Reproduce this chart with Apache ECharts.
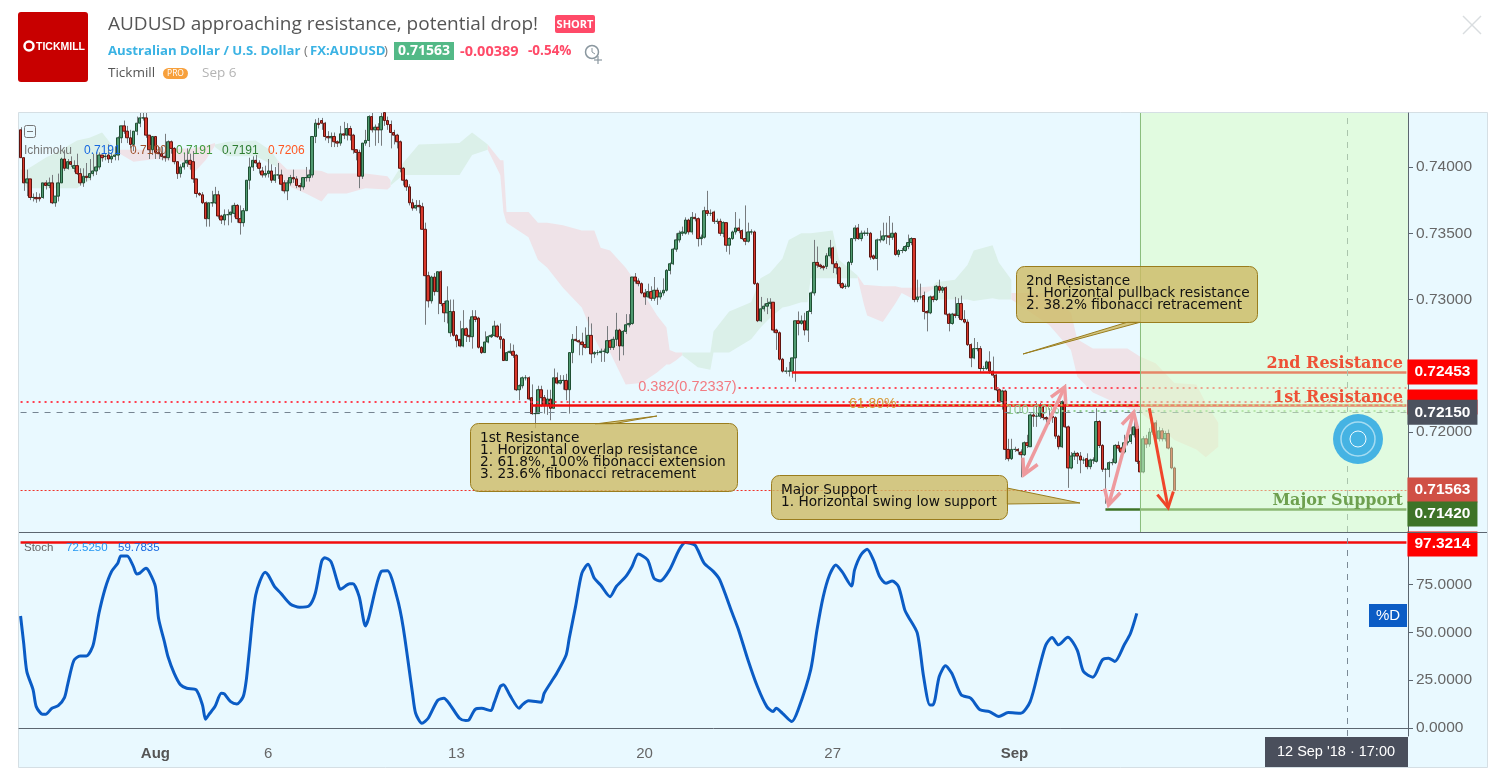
<!DOCTYPE html>
<html lang="en">
<head>
<meta charset="UTF-8">
<title>AUDUSD approaching resistance, potential drop!</title>
<style>
html,body{margin:0;padding:0;background:#fff}
#chart{width:1512px;height:776px}
</style>
</head>
<body>
<div id="chart"></div>
<script src="https://cdn.jsdelivr.net/npm/echarts@6/dist/echarts.min.js"></script>
<script type="text/javascript">
// AUDUSD 2h bars, rows are [open, close, low, high] in pips (0.0001)
var barsLateJul = [
[7428,7407,7407,7430],[7407,7388,7382,7407],[7388,7391,7378,7398],[7391,7377,7375,7391],[7377,7377,7374,7380],[7377,7376,7373,7381],[7377,7376,7374,7380],[7377,7388,7376,7388],[7388,7386,7383,7390],[7386,7388,7384,7392],
[7388,7373,7372,7394],[7373,7378,7370,7378],[7378,7388,7374,7395],[7388,7406,7388,7407],[7406,7399,7397,7413],[7399,7404,7398,7406],[7404,7402,7400,7408],[7399,7401,7396,7405],[7401,7395,7394,7410],[7395,7388,7386,7399],
[7388,7393,7385,7399],[7393,7392,7389,7403],[7392,7395,7390,7406],[7395,7397,7393,7410],[7397,7400,7394,7411],[7400,7409,7398,7411],[7409,7407,7404,7409],[7408,7408,7405,7410],[7409,7406,7403,7417],[7406,7408,7403,7411],
[7408,7409,7405,7415],[7409,7422,7405,7423],[7422,7431,7418,7431],[7431,7427,7425,7435],[7427,7422,7418,7431],[7422,7417,7414,7428],[7417,7427,7412,7427],[7427,7433,7424,7438],[7433,7437,7430,7441],[7437,7437,7435,7443],
[7437,7424,7422,7443],[7424,7413,7406,7424],[7413,7423,7409,7423],[7423,7411,7406,7423],[7411,7410,7406,7415],[7410,7408,7405,7415],[7408,7407,7404,7425],[7407,7419,7405,7420],[7419,7414,7410,7420],[7414,7404,7402,7415],
[7404,7395,7391,7404],[7395,7400,7392,7402],[7400,7403,7398,7410],[7403,7405,7400,7414],[7405,7402,7398,7410],[7404,7391,7388,7412],[7391,7380,7377,7391],[7380,7379,7378,7381],[7379,7373,7372,7381],[7373,7361,7355,7374],
[7361,7373,7355,7373],[7373,7373,7370,7382],[7373,7379,7372,7385],[7379,7363,7361,7382],[7363,7360,7357,7364],[7360,7364,7356,7368],[7364,7364,7356,7368],[7364,7366,7358,7371],[7365,7371,7362,7373],[7371,7361,7358,7372],
[7361,7358,7349,7371],[7358,7367,7355,7369],[7367,7390,7367,7390],[7390,7400,7383,7407],[7400,7405,7397,7408],[7405,7403,7400,7409],[7403,7399,7395,7405],[7397,7394,7392,7400],[7394,7395,7392,7401]];
var barsAug06 = [
[7395,7397,7392,7406],[7397,7390,7388,7402],[7390,7394,7388,7400],[7394,7394,7391,7403],[7394,7387,7382,7398],[7388,7382,7380,7390],[7382,7388,7375,7390],[7388,7392,7386,7394],[7392,7391,7388,7398],[7391,7386,7384,7393],
[7386,7385,7382,7388],[7385,7392,7383,7392],[7392,7392,7389,7400],[7392,7394,7389,7398],[7394,7423,7392,7423],[7423,7433,7418,7436],[7433,7432,7429,7437],[7435,7433,7428,7437],[7433,7423,7420,7434],[7423,7422,7418,7427],
[7422,7423,7415,7426],[7423,7419,7415,7426],[7419,7418,7415,7420],[7418,7425,7416,7431],[7425,7424,7421,7434],[7424,7429,7420,7433],[7429,7424,7420,7431],[7424,7413,7410,7425],[7413,7411,7405,7413],[7411,7393,7384,7413],
[7393,7418,7391,7418],[7418,7420,7416,7428],[7420,7438,7415,7439],[7438,7428,7426,7441],[7428,7430,7416,7432],[7430,7428,7418,7433],[7428,7438,7416,7441],[7441,7435,7431,7443],[7435,7432,7428,7438],[7432,7426,7414,7435],
[7426,7424,7417,7428],[7424,7419,7414,7425],[7419,7399,7396,7420],[7399,7390,7386,7400],[7390,7385,7382,7391],[7385,7373,7371,7387],[7373,7369,7367,7376],[7369,7371,7367,7375],[7371,7370,7365,7375],[7370,7353,7353,7373],
[7353,7318,7281,7358],[7318,7299,7294,7321],[7299,7317,7297,7318],[7317,7306,7303,7320],[7306,7321,7289,7321],[7321,7297,7295,7322],[7297,7290,7283,7299],[7290,7299,7282,7310],[7275,7291,7272,7300],[7291,7273,7272,7300]];
var barsAug13 = [
[7273,7269,7264,7274],[7270,7265,7264,7284],[7265,7278,7264,7292],[7278,7273,7268,7279],[7273,7272,7268,7285],[7272,7287,7263,7292],[7287,7285,7283,7292],[7286,7264,7263,7287],[7264,7260,7259,7265],[7260,7268,7260,7276],
[7268,7272,7267,7273],[7272,7273,7271,7274],[7273,7280,7272,7284],[7280,7272,7271,7281],[7272,7270,7263,7282],[7270,7254,7254,7271],[7254,7260,7254,7261],[7260,7261,7259,7267],[7261,7258,7256,7266],[7258,7232,7231,7259],
[7232,7235,7224,7236],[7235,7241,7233,7242],[7241,7241,7239,7243],[7241,7225,7224,7242],[7226,7214,7213,7236],[7214,7214,7203,7221],[7214,7232,7214,7235],[7232,7226,7219,7235],[7226,7220,7214,7228],[7220,7225,7213,7232],
[7225,7218,7209,7232],[7218,7241,7218,7248],[7241,7237,7236,7245],[7237,7239,7236,7243],[7239,7239,7232,7243],[7239,7232,7224,7244],[7232,7260,7214,7260],[7260,7270,7252,7274],[7270,7269,7268,7280],[7269,7268,7258,7270],
[7268,7266,7258,7275],[7266,7264,7263,7279],[7264,7273,7264,7287],[7273,7259,7252,7282],[7259,7260,7256,7261],[7260,7260,7258,7262],[7260,7261,7253,7263],[7261,7261,7253,7263],[7260,7269,7259,7280],[7269,7264,7262,7270],
[7264,7270,7262,7272],[7270,7277,7265,7290],[7277,7265,7254,7278],[7265,7276,7258,7277],[7276,7281,7274,7289],[7281,7282,7279,7289],[7282,7317,7281,7317],[7317,7314,7312,7320],[7314,7312,7310,7316],[7312,7305,7304,7313]];
var barsAug20 = [
[7305,7302,7296,7308],[7302,7306,7301,7312],[7306,7301,7299,7310],[7301,7307,7299,7317],[7307,7302,7296,7309],[7302,7305,7300,7307],[7305,7307,7303,7316],[7307,7322,7306,7323],[7322,7327,7319,7328],[7327,7338,7326,7339],
[7338,7345,7336,7350],[7345,7350,7343,7352],[7350,7351,7348,7355],[7350,7360,7349,7362],[7360,7351,7349,7361],[7351,7362,7349,7366],[7362,7361,7359,7365],[7361,7346,7340,7362],[7346,7347,7341,7349],[7347,7367,7346,7370],
[7367,7365,7363,7382],[7365,7365,7363,7368],[7366,7359,7357,7367],[7359,7359,7357,7361],[7359,7350,7348,7361],[7350,7358,7347,7359],[7358,7341,7336,7358],[7341,7346,7334,7347],[7346,7351,7345,7352],[7351,7354,7349,7366],
[7354,7352,7350,7361],[7352,7346,7345,7353],[7346,7344,7341,7371],[7344,7351,7343,7358],[7351,7351,7349,7353],[7351,7312,7311,7352],[7312,7284,7283,7313],[7284,7293,7283,7302],[7293,7295,7291,7297],[7295,7297,7289,7301],
[7297,7298,7293,7301],[7298,7277,7275,7298],[7277,7275,7262,7278],[7275,7255,7254,7276],[7255,7246,7245,7256],[7246,7246,7244,7249],[7246,7246,7242,7253],[7246,7256,7241,7256],[7256,7284,7238,7284],[7284,7282,7273,7291],
[7282,7284,7281,7288],[7284,7277,7273,7290],[7277,7291,7268,7292],[7291,7305,7289,7306],[7305,7328,7303,7345],[7328,7326,7324,7340],[7326,7325,7323,7327],[7325,7324,7322,7326],[7325,7333,7323,7335],[7333,7339,7331,7345]];
var barsAug27 = [
[7339,7327,7320,7340],[7327,7324,7319,7329],[7324,7312,7310,7325],[7312,7309,7308,7313],[7310,7310,7308,7312],[7310,7328,7309,7329],[7328,7346,7326,7346],[7346,7354,7344,7356],[7354,7346,7345,7357],[7346,7350,7344,7352],
[7350,7350,7348,7352],[7350,7350,7348,7354],[7350,7332,7330,7351],[7333,7331,7330,7334],[7331,7345,7322,7346],[7345,7345,7343,7352],[7345,7348,7344,7358],[7348,7348,7342,7358],[7348,7347,7341,7363],[7347,7350,7345,7358],
[7350,7334,7333,7351],[7334,7337,7332,7338],[7337,7337,7335,7339],[7337,7340,7336,7341],[7340,7343,7338,7349],[7343,7346,7341,7347],[7346,7300,7298,7346],[7300,7302,7298,7315],[7302,7302,7300,7312],[7303,7291,7285,7306],
[7291,7290,7276,7292],[7290,7302,7289,7303],[7302,7300,7298,7303],[7300,7310,7299,7311],[7310,7307,7305,7315],[7307,7309,7305,7310],[7309,7289,7288,7310],[7289,7282,7276,7290],[7282,7289,7281,7290],[7289,7288,7286,7302],
[7288,7297,7286,7301],[7297,7285,7284,7303],[7285,7283,7282,7292],[7283,7266,7265,7285],[7266,7256,7249,7267],[7256,7263,7255,7271],[7263,7263,7261,7268],[7263,7248,7245,7265],[7248,7248,7246,7250],[7248,7253,7247,7254],
[7253,7246,7244,7261],[7246,7243,7241,7257],[7243,7232,7231,7244],[7232,7223,7222,7233],[7223,7231,7217,7232],[7231,7187,7179,7232],[7187,7180,7178,7195],[7180,7187,7179,7195],[7187,7187,7185,7189],[7187,7186,7183,7188]];
var barsSep03 = [
[7185,7183,7166,7187],[7183,7192,7182,7193],[7192,7190,7188,7198],[7189,7213,7189,7214],[7213,7212,7204,7215],[7212,7212,7204,7222],[7212,7219,7210,7222],[7219,7211,7209,7220],[7211,7210,7207,7212],[7210,7210,7206,7218],
[7212,7211,7207,7214],[7211,7197,7195,7212],[7197,7189,7187,7198],[7189,7223,7188,7224],[7223,7204,7203,7236],[7204,7173,7158,7205],[7173,7182,7172,7185],[7182,7184,7179,7186],[7184,7182,7176,7185],[7182,7179,7169,7185],
[7179,7179,7176,7181],[7180,7174,7172,7184],[7174,7179,7172,7180],[7179,7179,7176,7181],[7178,7208,7177,7218],[7208,7190,7188,7209],[7190,7172,7170,7191],[7172,7172,7146,7173],[7172,7177,7166,7178],[7177,7177,7175,7180],
[7177,7190,7176,7191],[7190,7188,7186,7193],[7188,7185,7183,7189],[7185,7192,7184,7198],[7192,7193,7190,7198],[7193,7198,7191,7204],[7198,7204,7196,7214],[7204,7178,7176,7205],[7178,7170,7167,7179],[7170,7195,7169,7197],
[7195,7191,7188,7198],[7191,7200,7189,7203],[7200,7207,7198,7211],[7207,7195,7194,7209],[7195,7201,7193,7204],[7201,7195,7193,7203],[7195,7199,7193,7201],[7199,7188,7187,7202],[7188,7173,7172,7189],[7173,7156,7156,7174]];

// stochastic %D, read at the line's turning points
var stochIdx = [0,1,2,4,5,7,8,10,12,14,15,17,19,21,23,24,25,27,29,31,32,34,36,37,38,40,41,43,44,46,47,49,51,53,56,58,59,60,62,64,65,67,69,71,72,73,75,78,79,81,83,86,89,92,94,96,97,99,101,102,105,106,108,110,111,115,117,120,122,125,126,128,130,133,135,137,140,142,143,145,147,150,151,153,154,156,159,160,162,166,167,170,171,174,175,177,179,181,183,185,188,190,193,195,197,200,202,204,207,210,212,215,216,218,221,223,227,229,232,235,238,240,241,243,246,248,252,254,256,258,260,262,265,266,268,270,272,274,276,278,280,282,283,286,288,290,291,293,295,297,300,303,306,309,312,315,319,322,325,327,329,331,334,337,339,342,345,347,349,352,354,356];
var stochVal = [58.6,44.3,29.5,20,11.2,7.2,7.2,10.3,11.7,15.9,22.6,35.3,37.7,37.7,42.6,50.4,60,73.1,81.8,86.2,90,90,84.4,80.6,81,83.6,81.8,74,57.4,44.3,37.4,28.6,22.6,20.8,20,12.1,4.6,6.9,11.2,18.2,17.8,13.8,12.6,16.4,25.2,40.9,69.6,81.5,80,74,70.5,64.9,63.2,63.9,70.5,87,89.1,87,76.6,72.6,75.4,75.4,68.7,53.4,57.4,81.8,82.2,68.7,53,18.2,7.7,2.5,5.1,14.4,15.6,12.1,5.1,3.9,4.2,9.8,10.3,9.1,13,21.7,22.6,17.3,10.3,12.1,14.2,13.5,18.2,26,28.6,38.2,47,63.5,80.9,85.6,78.3,74.8,68.7,74,79.2,84.4,91,87.9,78.3,76.9,82.7,93.1,97,95.8,93.1,86.2,81.8,77.5,60,51.3,35.6,21.7,11.2,8.6,10.3,7.7,3.4,9.5,30.4,51.3,68.7,80,85.3,81.8,74.3,82.7,90.5,93.5,87.9,79.2,75.7,76.9,74,61.8,58.6,49.6,26.9,12.1,12.1,26.9,32.5,28.6,17.3,15.6,9.5,8.6,6,8.1,7.7,13.8,32.1,43.5,47.3,43.5,47.5,40.8,29.5,26.6,35.6,36.5,34.8,43.5,49.6,60];

// ichimoku cloud outlines, rows are [bar, top, bottom] in pips
var cloudGreen = [
[[0,7398,7392],[2,7398,7384],[8,7407,7384],[13,7413,7384],[18,7420,7384],[22,7422,7390],[26,7426,7405],[29,7417,7407],[31,7413,7409]],
[[62,7417,7415],[66,7419,7408],[75,7420,7408],[80,7412,7402],[82,7405,7400]],
[[118,7388,7386],[122,7403,7394],[127,7417,7394],[140,7418,7394],[144,7426,7409],[149,7417,7413]],
[[211,7260,7258],[216,7260,7249],[220,7260,7247],[221,7276,7260],[226,7291,7260],[233,7298,7270],[236,7316,7279],[239,7320,7286],[243,7331,7294],[245,7345,7295],[249,7350,7298],[251,7350,7298],[252,7350,7316],[259,7352,7316],[261,7330,7316],[267,7318,7316]],
[[291,7310,7308],[292,7313,7300],[298,7315,7300],[302,7326,7300],[304,7337,7299],[310,7341,7301],[312,7328,7300],[316,7315,7300]]
];
var cloudRed = [
[[31,7413,7411],[36,7413,7404],[43,7413,7406],[52,7414,7404],[55,7414,7395],[59,7416,7405],[62,7418,7416]],
[[82,7405,7398],[85,7398,7386],[91,7398,7380],[96,7397,7374],[98,7395,7380],[104,7395,7380],[110,7395,7384],[117,7393,7383],[118,7390,7385]],
[[149,7417,7413],[153,7405,7394],[154,7405,7366],[155,7366,7358],[162,7366,7347],[165,7358,7330],[168,7358,7324],[173,7356,7309],[179,7352,7294],[183,7352,7271],[185,7339,7262],[188,7337,7260],[193,7324,7236],[198,7307,7237],[203,7288,7245],[206,7279,7251],[207,7262,7251],[209,7260,7254],[211,7260,7258]],
[[267,7318,7316],[269,7311,7296],[270,7311,7288],[275,7310,7283],[277,7310,7290],[279,7310,7297],[281,7309,7305],[285,7309,7300],[291,7310,7308]],
[[316,7305,7300],[328,7305,7281],[335,7290,7262],[337,7270,7242],[342,7263,7230],[353,7263,7218],[357,7257,7215],[362,7252,7206],[368,7237,7194],[375,7236,7187],[378,7222,7181],[382,7207,7189]]
];

var barCount = 443;
var tickIdx = [43,79,139,199,259,317];
var tickText = ['Aug','6','13','20','27','Sep'];
var priceTicks = [0.72,0.73,0.735,0.74];
var stochTicks = [0,25,50,75];

var lastClose = 0.71563, marketPrice = 0.7215, res2 = 0.72453, res1 = 0.72205, support = 0.7142;
var fib382 = 0.72337, fib618 = 0.7221, fib100 = 0.72163, dottedRes = 0.72232, stochLevel = 97.3214;

var bars = barsLateJul.concat(barsAug06, barsAug13, barsAug20, barsAug27, barsSep03);
var categories = [];
for (var n = 0; n < barCount; n++) categories.push(String(n));
function px(p){ return p / 10000; }

var bodies = bars.map(function (b) {
    return [px(b[0]), px(b[1]), px(Math.min(b[0], b[1])), px(Math.max(b[0], b[1]))];
});
var wicks = bars.map(function (b, i) { return [i, px(b[2]), px(b[3])]; });
var stochData = stochIdx.map(function (x, i) { return [x, stochVal[i]]; });

var clouds = [];
cloudGreen.forEach(function (s) { clouds.push({ rows: s, color: '#dbf0e9' }); });
cloudRed.forEach(function (s) { clouds.push({ rows: s, color: '#efe3e8' }); });

// arrows drawn on the chart: from bar/pip to bar/pip
var arrows = [
    { a: [320, 7168], b: [333, 7234], both: true, color: '#ee9a9e', w: 3.5 },
    { a: [347, 7145], b: [355, 7215], both: true, color: '#ee9a9e', w: 3.5 },
    { a: [360, 7218], b: [366, 7143], both: false, color: '#f0452a', w: 3 }
];

function level(from, price, color, opts) {
    opts = opts || {};
    var first = { coord: [String(from), price], lineStyle: { color: color, width: opts.width || 1, type: opts.type || 'solid' } };
    first.label = opts.label || { show: false };
    return [first, { coord: [String(barCount - 1), price] }];
}
function tag(text, bg, shift, fg) {
    return { show: true, position: 'end', distance: 1, formatter: text, backgroundColor: bg, color: fg || '#fff',
        fontFamily: 'Liberation Sans', fontWeight: 'bold', fontSize: 15.5, padding: [6, 7, 4, 7], lineHeight: 15,
        offset: [0, shift || 0] };
}
function startText(text, color, size) {
    return { show: true, position: 'start', distance: 2, formatter: text, color: color, fontFamily: 'Liberation Sans', fontSize: size };
}

var myChart = echarts.init(document.getElementById('chart'));

var sansFont = '"Open Sans", "Liberation Sans"';
var noteFont = '13.7px "DejaVu Sans"';
var noteFill = 'rgba(205,186,100,0.8)';
var noteLine = '#9a7d1e';

function txt(text, x, y, font, fill, align, z) {
    return { type: 'text', z: z || 60, style: { text: text, x: x, y: y, font: font, fill: fill, textAlign: align || 'left', textVerticalAlign: 'middle' } };
}
function note(x, y, w, h, tip, lines) {
    var els = [
        { type: 'polygon', z: 60, shape: { points: tip }, style: { fill: noteFill, stroke: noteLine, lineWidth: 1 } },
        { type: 'rect', z: 60, shape: { x: x + 0.5, y: y + 0.5, width: w, height: h, r: 8 }, style: { fill: noteFill, stroke: noteLine, lineWidth: 1 } }
    ];
    lines.forEach(function (t, i) { els.push(txt(t, x + 10, y + 15 + i * 12, noteFont, '#111', 'left', 61)); });
    return els;
}

var graphics = [
    // chart panel
    { type: 'rect', z: -1, shape: { x: 18.5, y: 112.5, width: 1469, height: 655 }, style: { fill: '#e9f9ff', stroke: '#d5dfe4', lineWidth: 1 } },
    { type: 'line', z: 8, shape: { x1: 19, y1: 532.5, x2: 1487, y2: 532.5 }, style: { stroke: '#5c6670', lineWidth: 1 } },
    // header
    { type: 'rect', z: 60, shape: { x: 18, y: 12, width: 70, height: 70, r: 3 }, style: { fill: '#c80000' } },
    { type: 'circle', z: 61, shape: { cx: 29, cy: 46, r: 4.5 }, style: { fill: 'none', stroke: '#fff', lineWidth: 2.5 } },
    txt('TICKMILL', 36, 47, 'bold 10.5px "Liberation Sans"', '#fff', 'left', 61),
    txt('AUDUSD approaching resistance, potential drop!', 108, 25, '19px ' + sansFont, '#555', 'left'),
    { type: 'rect', z: 60, shape: { x: 555, y: 15, width: 40, height: 18, r: 2 }, style: { fill: '#ff4a68' } },
    txt('SHORT', 575, 24.5, 'bold 11px "Open Sans"', '#fff', 'center', 61),
    txt('Australian Dollar / U.S. Dollar', 108, 51.5, 'bold 13.2px ' + sansFont, '#3bb3e4'),
    txt('(', 304, 51.5, '13.2px ' + sansFont, '#777'),
    txt('FX:AUDUSD', 310, 51.5, 'bold 13.2px ' + sansFont, '#3bb3e4'),
    txt(')', 384, 51.5, '13.2px ' + sansFont, '#777'),
    { type: 'rect', z: 60, shape: { x: 394, y: 42, width: 60, height: 18 }, style: { fill: '#53b987' } },
    txt('0.71563', 424, 51.5, 'bold 14px ' + sansFont, '#fff', 'center', 61),
    txt('-0.00389', 460, 51.5, 'bold 14.5px ' + sansFont, '#ff4a68'),
    txt('-0.54%', 528, 51.5, 'bold 13.5px ' + sansFont, '#ff4a68'),
    { type: 'circle', z: 60, shape: { cx: 592, cy: 52, r: 6.5 }, style: { fill: 'none', stroke: '#8a979f', lineWidth: 1.5 } },
    { type: 'polyline', z: 60, shape: { points: [[592, 48], [592, 52], [595, 54]] }, style: { fill: 'none', stroke: '#8a979f', lineWidth: 1 } },
    { type: 'line', z: 60, shape: { x1: 594, y1: 60, x2: 602, y2: 60 }, style: { stroke: '#8a979f', lineWidth: 1.2 } },
    { type: 'line', z: 60, shape: { x1: 598, y1: 56, x2: 598, y2: 64 }, style: { stroke: '#8a979f', lineWidth: 1.2 } },
    txt('Tickmill', 108, 73.5, '13.5px ' + sansFont, '#555'),
    { type: 'rect', z: 60, shape: { x: 163, y: 68, width: 25, height: 11, r: 5.5 }, style: { fill: '#f7a03c' } },
    txt('PRO', 175.5, 73.5, '8.5px ' + sansFont, '#fff', 'center', 61),
    txt('Sep 6', 202, 73.5, '13.5px ' + sansFont, '#b4b4b4'),
    { type: 'line', z: 60, shape: { x1: 1463, y1: 16, x2: 1481, y2: 34 }, style: { stroke: '#d9dde0', lineWidth: 1.5 } },
    { type: 'line', z: 60, shape: { x1: 1481, y1: 16, x2: 1463, y2: 34 }, style: { stroke: '#d9dde0', lineWidth: 1.5 } },
    // indicator legends
    { type: 'rect', z: 60, shape: { x: 24.5, y: 125.5, width: 11, height: 12, r: 2 }, style: { fill: 'none', stroke: '#777', lineWidth: 1 } },
    { type: 'line', z: 60, shape: { x1: 27, y1: 131.5, x2: 33, y2: 131.5 }, style: { stroke: '#777', lineWidth: 1 } },
    txt('Ichimoku', 24, 151, '12px "Liberation Sans"', '#777'),
    txt('0.7191', 84, 151, '12px "Liberation Sans"', '#1668e0'),
    txt('0.7190', 130, 151, '12px "Liberation Sans"', '#a0522d'),
    txt('0.7191', 176, 151, '12px "Liberation Sans"', '#3f9b3f'),
    txt('0.7191', 222, 151, '12px "Liberation Sans"', '#2e7d32'),
    txt('0.7206', 268, 151, '12px "Liberation Sans"', '#ff5722'),
    txt('Stoch', 24, 548, '11.5px "Liberation Sans"', '#666'),
    txt('72.5250', 66, 548, '11.5px "Liberation Sans"', '#2196f3'),
    txt('59.7835', 118, 548, '11.5px "Liberation Sans"', '#1668e0'),
    // level captions
    txt('2nd Resistance', 1403, 364, 'bold 16px "DejaVu Serif"', '#ee5136', 'right'),
    txt('1st Resistance', 1403, 398, 'bold 16px "DejaVu Serif"', '#ee5136', 'right'),
    txt('Major Support', 1403, 501, 'bold 16px "DejaVu Serif"', '#6ea04f', 'right'),
    // replay button
    { type: 'circle', z: 60, shape: { cx: 1358, cy: 439, r: 25 }, style: { fill: '#45b3e3' } },
    { type: 'circle', z: 61, shape: { cx: 1358, cy: 439, r: 17 }, style: { fill: 'none', stroke: '#a5dcf2', lineWidth: 1.5 } },
    { type: 'circle', z: 61, shape: { cx: 1358, cy: 439, r: 8 }, style: { fill: 'none', stroke: '#f0fbff', lineWidth: 1 } },
    // badges on the axes
    { type: 'rect', z: 60, shape: { x: 1369, y: 604, width: 38, height: 23 }, style: { fill: '#0b5cc5' } },
    txt('%D', 1388, 615.5, '15px "Liberation Sans"', '#fff', 'center', 61),
    { type: 'rect', z: 60, shape: { x: 1265, y: 737, width: 143, height: 30 }, style: { fill: '#4a4f5c' } },
    txt("12 Sep '18 · 17:00", 1336, 751.5, '14.5px "Liberation Sans"', '#fff', 'center', 61)
].concat(
    note(470, 423, 267, 68, [[595, 424], [657, 416], [612, 424]], ['1st Resistance', '1. Horizontal overlap resistance', '2. 61.8%, 100% fibonacci extension', '3. 23.6% fibonacci retracement']),
    note(1016, 266, 241, 56, [[1128, 322], [1023, 354], [1141, 322]], ['2nd Resistance', '1. Horizontal pullback resistance', '2. 38.2% fibonacci retracement']),
    note(771, 475, 236, 44, [[1007, 488], [1080, 503], [1007, 504]], ['Major Support', '1. Horizontal swing low support'])
);

var option = {
    animation: false,
    backgroundColor: '#fff',
    textStyle: { fontFamily: 'Liberation Sans' },
    grid: [
        { left: 19, right: 104, top: 113, height: 419 },
        { left: 19, right: 104, top: 533, height: 203 }
    ],
    xAxis: [
        { type: 'category', gridIndex: 0, data: categories, axisLine: { show: false }, axisTick: { show: false }, axisLabel: { show: false }, splitLine: { show: false } },
        { type: 'category', gridIndex: 1, data: categories,
          axisLine: { lineStyle: { color: '#5c6670' } },
          axisTick: { alignWithLabel: true, length: 4, lineStyle: { color: '#5c6670' },
              interval: function (i) { return tickIdx.indexOf(i) >= 0; } },
          axisLabel: { color: '#666', fontSize: 15, margin: 10,
              interval: function (i) { return tickIdx.indexOf(i) >= 0; },
              formatter: function (v) {
                  var t = tickText[tickIdx.indexOf(+v)];
                  return (t === 'Aug' || t === 'Sep') ? '{b|' + t + '}' : t;
              },
              rich: { b: { fontWeight: 'bold', fontSize: 15, color: '#555' } } },
          splitLine: { show: false } }
    ],
    yAxis: [
        { type: 'value', gridIndex: 0, position: 'right', scale: true, min: 0.71247, max: 0.74407,
          axisLine: { show: true, lineStyle: { color: '#5c6670' } },
          axisTick: { show: true, length: 5, lineStyle: { color: '#5c6670' }, customValues: priceTicks },
          axisLabel: { color: '#666', fontSize: 15.5, margin: 8, customValues: priceTicks, showMinLabel: true, showMaxLabel: true,
              formatter: function (v) { return v.toFixed(5); } },
          splitLine: { show: false } },
        { type: 'value', gridIndex: 1, position: 'right', min: -4.18, max: 102,
          axisLine: { show: true, lineStyle: { color: '#5c6670' } },
          axisTick: { show: true, length: 5, lineStyle: { color: '#5c6670' }, customValues: stochTicks },
          axisLabel: { color: '#666', fontSize: 15.5, margin: 8, customValues: stochTicks,
              formatter: function (v) { return v.toFixed(4); } },
          splitLine: { show: false } }
    ],
    series: [
        { type: 'custom', name: 'cloud', z: 1, clip: true, silent: true, xAxisIndex: 0, yAxisIndex: 0,
          data: clouds.map(function (c) { return [c.rows[0][0], px(c.rows[0][1])]; }),
          renderItem: function (params, api) {
              var c = clouds[params.dataIndex], pts = [], k;
              for (k = 0; k < c.rows.length; k++) pts.push(api.coord([c.rows[k][0], px(c.rows[k][1])]));
              for (k = c.rows.length - 1; k >= 0; k--) pts.push(api.coord([c.rows[k][0], px(c.rows[k][2])]));
              return { type: 'polygon', shape: { points: pts }, style: { fill: c.color } };
          } },
        { type: 'custom', name: 'wicks', z: 2, clip: true, silent: true, xAxisIndex: 0, yAxisIndex: 0,
          encode: { x: 0, y: [1, 2] }, data: wicks,
          renderItem: function (params, api) {
              var a = api.coord([api.value(0), api.value(1)]), b = api.coord([api.value(0), api.value(2)]);
              var x = Math.round(a[0]) + 0.5;
              return { type: 'line', shape: { x1: x, y1: a[1], x2: x, y2: b[1] }, style: { stroke: '#777b7e', lineWidth: 1 } };
          } },
        { type: 'candlestick', name: 'AUDUSD', z: 3, xAxisIndex: 0, yAxisIndex: 0, data: bodies, barWidth: 3, silent: true,
          itemStyle: { color: '#4f9a70', color0: '#d8392c', borderColor: '#1f4f33', borderColor0: '#5e1410', borderWidth: 1 } },
        { type: 'line', name: 'levels', z: 4, xAxisIndex: 0, yAxisIndex: 0, data: [],
          markLine: { silent: true, symbol: ['none', 'none'], animation: false, precision: 5, data: [
              level(163, res1, '#f20d0d', { width: 2.5, label: tag('0.72205', '#ff0000', -3, '#ff0000') }),
              level(0, lastClose, '#f03028', { type: [2, 2], width: 1.2, label: tag('0.71563', '#d05045') }),
              level(0, marketPrice, '#768592', { type: [6, 6], label: tag('0.72150', '#4b515d') }),
              level(0, dottedRes, '#ff4050', { type: [2, 4], width: 2 }),
              level(229, fib382, '#ff4c5c', { type: [2, 4], width: 2, label: startText('0.382(0.72337)', '#f27b82', 14.5) }),
              level(280, fib618, '#c3ba5a', { type: [2, 4], width: 2, label: startText('61.80%', '#d69a3a', 14) }),
              level(332, fib100, '#93cf93', { type: [2, 4], width: 2, label: startText('100.00%', '#8fc98f', 13.5) }),
              level(246, res2, '#f20d0d', { width: 2.5, label: tag('0.72453', '#ff0000') }),
              level(346, support, '#3e7327', { width: 2.5, label: tag('0.71420', '#3e7327', 5) }),
              [{ coord: ['357', 0.71247], lineStyle: { color: '#3a7d3a', width: 1, type: 'solid' }, label: { show: false } }, { coord: ['357', 0.74407] }],
              [{ coord: ['423', 0.71247], lineStyle: { color: '#7b8a96', width: 1, type: [6, 6] }, label: { show: false } }, { coord: ['423', 0.74407] }]
          ] } },
        { type: 'custom', name: 'position zone', z: 5, clip: true, silent: true, xAxisIndex: 0, yAxisIndex: 0,
          data: [[357, 0.74407]],
          renderItem: function (params, api) {
              var s = params.coordSys, x = api.coord([357, 0.74407])[0];
              return { type: 'rect', shape: { x: x, y: s.y, width: s.x + s.width - x, height: s.height }, style: { fill: 'rgba(217,253,193,0.5)' } };
          } },
        { type: 'custom', name: 'arrows', z: 6, clip: false, silent: true, xAxisIndex: 0, yAxisIndex: 0,
          data: arrows.map(function (a) { return [a.a[0], px(a.a[1])]; }),
          renderItem: function (params, api) {
              var d = arrows[params.dataIndex];
              var p = api.coord([d.a[0], px(d.a[1])]), q = api.coord([d.b[0], px(d.b[1])]);
              function head(tip, from) {
                  var t = Math.atan2(from[1] - tip[1], from[0] - tip[0]), L = 17, s = 0.5;
                  return [[tip[0] + L * Math.cos(t + s), tip[1] + L * Math.sin(t + s)], tip, [tip[0] + L * Math.cos(t - s), tip[1] + L * Math.sin(t - s)]];
              }
              var st = { fill: 'none', stroke: d.color, lineWidth: d.w };
              var kids = [
                  { type: 'line', shape: { x1: p[0], y1: p[1], x2: q[0], y2: q[1] }, style: st },
                  { type: 'polyline', shape: { points: head(q, p) }, style: st }
              ];
              if (d.both) kids.push({ type: 'polyline', shape: { points: head(p, q) }, style: st });
              return { type: 'group', children: kids };
          } },
        { type: 'line', name: '%D', z: 3, xAxisIndex: 1, yAxisIndex: 1, data: stochData, showSymbol: false, smooth: 0.25,
          lineStyle: { color: '#0b5cc5', width: 3 }, silent: true },
        { type: 'line', name: 'stoch levels', z: 4, xAxisIndex: 1, yAxisIndex: 1, data: [],
          markLine: { silent: true, symbol: ['none', 'none'], animation: false, precision: 4, data: [
              level(0, stochLevel, '#f20d0d', { width: 2.5, label: tag('97.3214', '#ff0000', 2) }),
              [{ coord: ['423', -4.18], lineStyle: { color: '#7b8a96', width: 1, type: [6, 6] }, label: { show: false } }, { coord: ['423', 102] }]
          ] } }
    ],
    graphic: { elements: graphics }
};
myChart.setOption(option);
</script>
</body>
</html>
